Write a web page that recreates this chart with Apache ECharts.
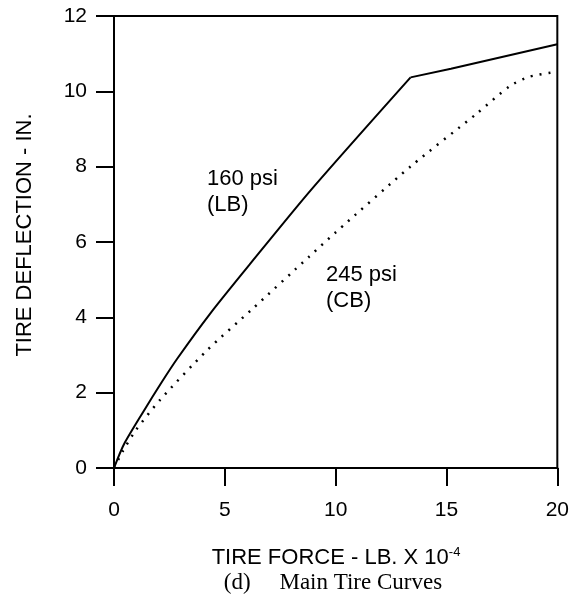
<!DOCTYPE html>
<html>
<head>
<meta charset="utf-8">
<script src="https://cdn.jsdelivr.net/npm/echarts@6/dist/echarts.min.js"></script>
<style>
  html, body { margin: 0; padding: 0; background: #fff; }
  #chart { width: 572px; height: 602px; }
</style>
</head>
<body>
<div id="chart"></div>
<script>
// tire force (lb x 10^-4) vs deflection (in.)
const lbCurve = [
  [0, 0], [0.45, 0.63], [1.35, 1.52], [2.1, 2.23], [2.85, 2.9], [4.34, 4.1],
  [6.13, 5.41], [8.9, 7.39], [13.38, 10.37],
  [15.2, 10.6], [20, 11.25]
]
const lbKink = 8 // index of the break point in lbCurve
const cbCurve = [
  [0, 0], [0.4, 0.45], [0.97, 0.99], [2.08, 1.81], [4.19, 3.12], [6.2, 4.2],
  [8.82, 5.62], [9.97, 6.24], [13.39, 8.01], [16.37, 9.41], [17.86, 10.14],
  [18.75, 10.39], [20, 10.52]
]
const xTicks = [0, 5, 10, 15, 20]
const yTicks = [0, 2, 4, 6, 8, 10, 12]
const curveLabels = ['160 psi\n(LB)', '245 psi\n(CB)']

const font = 'Liberation Sans, Arial, sans-serif'
const chart = echarts.init(document.getElementById('chart'))

const solidStyle = { color: '#000', width: 2 }

chart.setOption({
  backgroundColor: '#ffffff',
  animation: false,
  grid: {
    left: 114,
    right: 13,
    top: 16,
    bottom: 134,
    show: true,
    borderColor: '#000',
    borderWidth: 2
  },
  xAxis: {
    type: 'value',
    min: xTicks[0],
    max: xTicks[xTicks.length - 1],
    interval: 5,
    splitLine: { show: false },
    axisLine: { lineStyle: { color: '#000', width: 2 } },
    axisTick: { inside: false, length: 18, lineStyle: { color: '#000', width: 2 } },
    axisLabel: { color: '#000', fontSize: 21, fontFamily: font, margin: 32 }
  },
  yAxis: {
    type: 'value',
    min: yTicks[0],
    max: yTicks[yTicks.length - 1],
    interval: 2,
    splitLine: { show: false },
    axisLine: { lineStyle: { color: '#000', width: 2 } },
    axisTick: { inside: false, length: 18, lineStyle: { color: '#000', width: 2 } },
    axisLabel: { color: '#000', fontSize: 21, fontFamily: font, margin: 27 }
  },
  graphic: [
    {
      type: 'text',
      left: 207,
      top: 166,
      style: { text: curveLabels[0], fill: '#000', font: '22px ' + font, lineHeight: 26 }
    },
    {
      type: 'text',
      left: 326,
      top: 262,
      style: { text: curveLabels[1], fill: '#000', font: '22px ' + font, lineHeight: 26 }
    },
    {
      type: 'text',
      x: 25,
      y: 235,
      rotation: Math.PI / 2,
      style: {
        text: 'TIRE DEFLECTION - IN.',
        fill: '#000',
        font: '22px ' + font,
        align: 'center',
        verticalAlign: 'middle'
      }
    },
    {
      type: 'text',
      x: 336,
      y: 558,
      style: {
        text: '{a|TIRE FORCE - LB. X 10}{s|-4}',
        rich: {
          a: { fill: '#000', fontSize: 22, fontFamily: font },
          s: { fill: '#000', fontSize: 13, fontFamily: font, padding: [0, 0, 12, 0] }
        },
        align: 'center',
        verticalAlign: 'middle'
      }
    },
    {
      type: 'text',
      x: 333,
      y: 583,
      style: {
        text: '(d)     Main Tire Curves',
        fill: '#000',
        font: '23px Liberation Serif, Times New Roman, serif',
        align: 'center',
        verticalAlign: 'middle'
      }
    }
  ],
  series: [
    {
      name: '160 psi (LB)',
      type: 'line',
      data: lbCurve.slice(0, lbKink + 1),
      showSymbol: false,
      smooth: 0.25,
      lineStyle: solidStyle
    },
    {
      name: '160 psi (LB) upper',
      type: 'line',
      data: lbCurve.slice(lbKink),
      showSymbol: false,
      smooth: false,
      lineStyle: solidStyle
    },
    {
      name: '245 psi (CB)',
      type: 'line',
      data: cbCurve,
      showSymbol: false,
      smooth: 0.25,
      lineStyle: { color: '#000', width: 2.5, type: [2, 7] }
    }
  ]
})
</script>
</body>
</html>
